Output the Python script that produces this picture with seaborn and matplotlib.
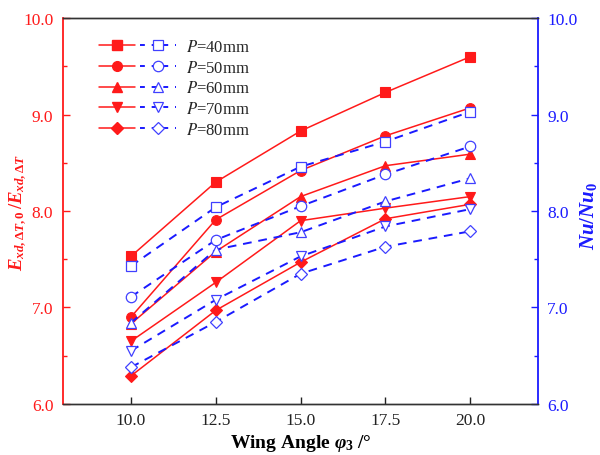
import matplotlib
matplotlib.use("Agg")
import matplotlib.pyplot as plt
import numpy as np
import pandas as pd
import seaborn as sns
from matplotlib.legend_handler import HandlerTuple
from matplotlib.lines import Line2D
from matplotlib.font_manager import FontProperties
from matplotlib.ticker import MultipleLocator, FormatStrFormatter

# ---------------- data ----------------
angles = [10.0, 12.5, 15.0, 17.5, 20.0]
pitch_labels = ["40", "50", "60", "70", "80"]

exergy_p40 = [7.53, 8.30, 8.83, 9.23, 9.60]
exergy_p50 = [6.90, 7.91, 8.42, 8.78, 9.07]
exergy_p60 = [6.83, 7.58, 8.15, 8.47, 8.59]
exergy_p70 = [6.65, 7.26, 7.90, 8.03, 8.15]
exergy_p80 = [6.29, 6.97, 7.47, 7.92, 8.07]

nu_p40 = [7.43, 8.04, 8.46, 8.72, 9.03]
nu_p50 = [7.11, 7.70, 8.05, 8.38, 8.67]
nu_p60 = [6.84, 7.60, 7.78, 8.10, 8.34]
nu_p70 = [6.55, 7.08, 7.53, 7.84, 8.02]
nu_p80 = [6.38, 6.85, 7.35, 7.63, 7.79]

exergy_series = [exergy_p40, exergy_p50, exergy_p60, exergy_p70, exergy_p80]
nu_series = [nu_p40, nu_p50, nu_p60, nu_p70, nu_p80]
markers = ["s", "o", "^", "v", "D"]

# ---------------- style ----------------
sns.set_theme(style="ticks")
plt.rcParams["font.family"] = ["Liberation Serif", "DejaVu Serif"]
plt.rcParams["mathtext.fontset"] = "custom"
plt.rcParams["mathtext.rm"] = "Liberation Serif:bold"
plt.rcParams["mathtext.it"] = "Liberation Serif:bold:italic"
plt.rcParams["mathtext.bf"] = "Liberation Serif:bold"

RED = "#ff1a1a"
BLUE = "#1a1aff"

fig = plt.figure(figsize=(6.0, 4.56), dpi=100)
ax = fig.add_axes([0.105, 0.112, 0.792, 0.846])
ax2 = ax.twinx()

handles = []
for i, p in enumerate(pitch_labels):
    ms_r = 7 if markers[i] != "D" else 6
    ms_b = 7.5 if markers[i] != "D" else 6.5
    df_e = pd.DataFrame({"angle": angles, "val": exergy_series[i]})
    df_n = pd.DataFrame({"angle": angles, "val": nu_series[i]})
    sns.lineplot(data=df_e, x="angle", y="val", ax=ax, color=RED, lw=1.1,
                 marker=markers[i], markersize=ms_r,
                 markerfacecolor=RED, markeredgecolor=RED, markeredgewidth=0.8,
                 legend=False)
    sns.lineplot(data=df_n, x="angle", y="val", ax=ax2, color=BLUE, lw=1.4,
                 linestyle=(0, (4.5, 3.5)),
                 marker=markers[i], markersize=ms_b,
                 markerfacecolor="white", markeredgecolor="#4040ff",
                 markeredgewidth=0.9, legend=False)
    h_r = Line2D([], [], color=RED, lw=1.1, marker=markers[i], markersize=ms_r,
                 markerfacecolor=RED, markeredgecolor=RED)
    h_b = Line2D([], [], color=BLUE, lw=1.4, linestyle=(0, (2.5, 3.5)), marker=markers[i],
                 markersize=ms_b, markerfacecolor="white", markeredgecolor="#4040ff",
                 markeredgewidth=0.9)
    handles.append((h_r, h_b))

for a in (ax, ax2):
    a.set_xlim(8, 22)
    a.set_ylim(6, 10)
    a.yaxis.set_major_locator(MultipleLocator(1.0))
    a.yaxis.set_minor_locator(MultipleLocator(0.5))
    a.yaxis.set_major_formatter(FormatStrFormatter("%.1f"))
    a.set_xlabel("")

ax.set_xticks(angles)
ax.xaxis.set_major_formatter(FormatStrFormatter("%.1f"))

# spines
ax.spines["left"].set_color(RED)
ax.spines["left"].set_linewidth(1.3)
ax2.spines["right"].set_color(BLUE)
ax2.spines["right"].set_linewidth(1.3)
ax2.spines["left"].set_visible(False)
for a in (ax, ax2):
    a.spines["top"].set_color("#333333")
    a.spines["bottom"].set_color("#333333")
    a.spines["top"].set_linewidth(1.0)
    a.spines["bottom"].set_linewidth(1.0)
ax.spines["right"].set_visible(False)

ax.tick_params(axis="x", direction="in", length=5, width=1, colors="#222222",
               labelsize=12.5, pad=6, top=False)
ax.tick_params(axis="y", which="both", direction="in", colors=RED, labelsize=12.5, pad=7)
ax.tick_params(axis="y", which="major", length=5, width=1.0)
ax.tick_params(axis="y", which="minor", length=3, width=1.0)
ax2.tick_params(axis="y", which="both", direction="in", colors=BLUE, labelsize=12.5, pad=6.5)
ax2.tick_params(axis="y", which="major", length=5, width=1.0)
ax2.tick_params(axis="y", which="minor", length=3, width=1.0)

ax.set_xlabel(r"Wing Angle $\varphi_3$ /°", fontsize=14, fontweight="bold", color="black", labelpad=3)
ax.set_ylabel(r"$E_{xd,\Delta T,0}\,/E_{xd,\Delta T}$", fontsize=13.5, color=RED)
ax2.set_ylabel(r"$Nu/Nu_0$", fontsize=15, color=BLUE)
ax.yaxis.set_label_coords(-0.072, 0.5)
ax2.yaxis.set_label_coords(1.084, 0.49)

legend_prop = FontProperties(family="Liberation Serif", size=12, math_fontfamily="stix")
leg = ax.legend(handles, [f"$P$=%smm" % p for p in pitch_labels],
                handler_map={tuple: HandlerTuple(ndivide=None, pad=0.35)},
                loc="upper left", bbox_to_anchor=(0.062, 0.963), frameon=False,
                prop=legend_prop, handlelength=4.6, handletextpad=0.6,
                labelspacing=0.28, borderaxespad=0.0)

fig.savefig("out.png", dpi=100)
